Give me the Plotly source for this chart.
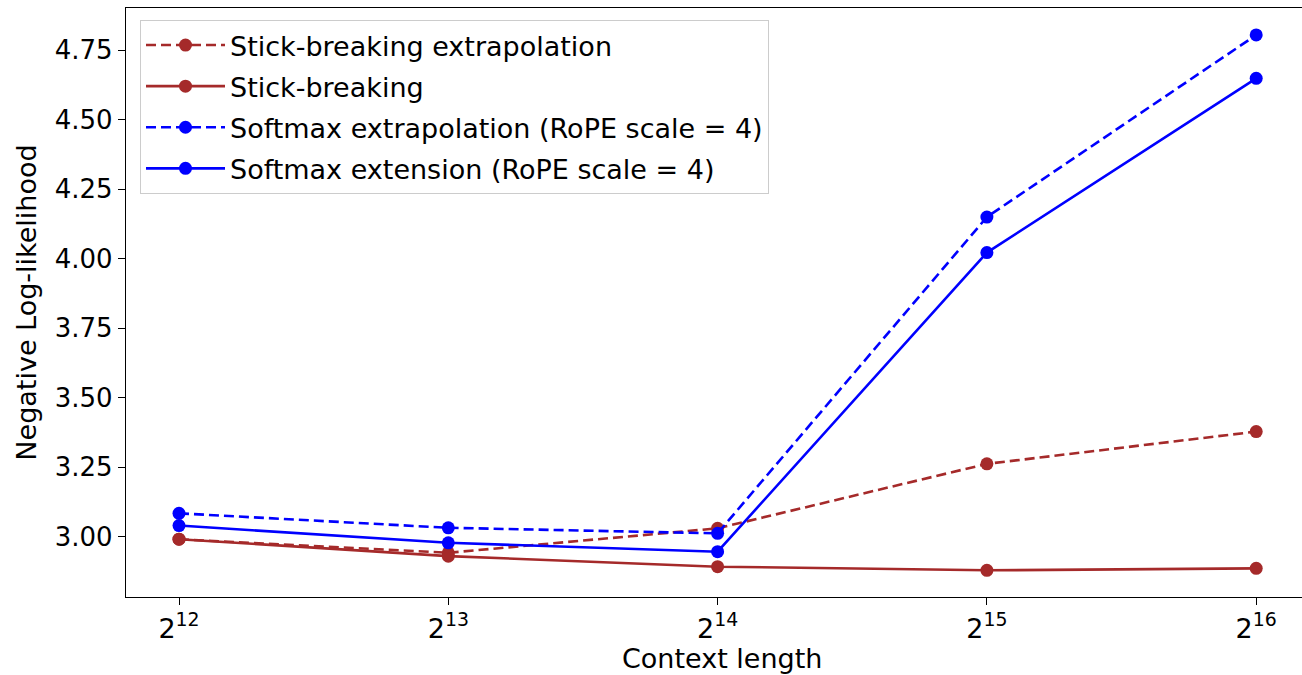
import plotly.graph_objects as go
import numpy as np

context_length = [4096, 8192, 16384, 32768, 65536]
tick_labels = ["2<sup>12</sup>", "2<sup>13</sup>", "2<sup>14</sup>", "2<sup>15</sup>", "2<sup>16</sup>"]
y_ticks = [3.00, 3.25, 3.50, 3.75, 4.00, 4.25, 4.50, 4.75]

sb_extrap = [2.991, 2.942, 3.030, 3.262, 3.378]
sb = [2.991, 2.930, 2.892, 2.879, 2.886]
sm_extrap = [3.084, 3.032, 3.012, 4.150, 4.805]
sm_ext = [3.040, 2.978, 2.946, 4.022, 4.649]

BROWN = "#a52a2a"
BLUE = "#0000ff"

W, H = 1302, 675
L, R, T, B = 126, 0, 8, 78

fig = go.Figure()
series = [
    ("Stick-breaking extrapolation", sb_extrap, BROWN, "10px,5px"),
    ("Stick-breaking", sb, BROWN, "solid"),
    ("Softmax extrapolation (RoPE scale = 4)", sm_extrap, BLUE, "10px,5px"),
    ("Softmax extension (RoPE scale = 4)", sm_ext, BLUE, "solid"),
]
for i, (name, ys, col, dash) in enumerate(series):
    fig.add_trace(go.Scatter(
        x=context_length, y=ys, name=name, mode="lines+markers",
        legendgroup="g%d" % i,
        line=dict(color=col, width=2.6, dash=dash),
        marker=dict(color=col, size=13),
    ))

# x range in log2 units (matplotlib-like margins, right edge cropped)
px_per_unit = 269.3
x_lo = 12 - (179 - L) / px_per_unit
x_hi = x_lo + (W - L - R) / px_per_unit

FONT = "DejaVu Sans"
fig.update_layout(
    width=W, height=H,
    margin=dict(l=L, r=R, t=T, b=B),
    paper_bgcolor="white", plot_bgcolor="white",
    font=dict(family=FONT, size=27, color="black"),
    showlegend=True,
    legend=dict(
        x=(140 - L) / (W - L - R), y=(H - B - 20) / (H - B - T),
        xanchor="left", yanchor="top",
        bgcolor="rgba(255,255,255,0.85)", bordercolor="#cccccc", borderwidth=1,
        font=dict(family=FONT, size=27, color="black"),
        itemwidth=79, tracegroupgap=3,
    ),
    xaxis=dict(
        type="log",
        range=[x_lo * np.log10(2), x_hi * np.log10(2)],
        tickmode="array", tickvals=context_length, ticktext=tick_labels,
        ticks="outside", ticklen=7, tickwidth=1.3, tickcolor="black",
        showline=True, linecolor="black", linewidth=1.3, mirror=True,
        showgrid=False, zeroline=False,
        tickfont=dict(family=FONT, size=27, color="black"),
    ),
    yaxis=dict(
        range=[2.783, 4.902],
        tickmode="array",
        tickvals=y_ticks,
        ticktext=["%.2f" % v for v in y_ticks],
        ticks="outside", ticklen=7, tickwidth=1.3, tickcolor="black",
        showline=True, linecolor="black", linewidth=1.3,
        showgrid=False, zeroline=False,
        tickfont=dict(family=FONT, size=26, color="black"),
        title=dict(text="Negative Log-likelihood", font=dict(family=FONT, size=27, color="black"), standoff=10),
    ),
    annotations=[dict(
        text="Context length", xref="paper", yref="paper",
        x=(722 - L) / (W - L - R), y=-(658 - (H - B)) / (H - B - T),
        xanchor="center", yanchor="middle", showarrow=False,
        font=dict(family=FONT, size=27, color="black"),
    )],
)

fig.write_html("out.html")
